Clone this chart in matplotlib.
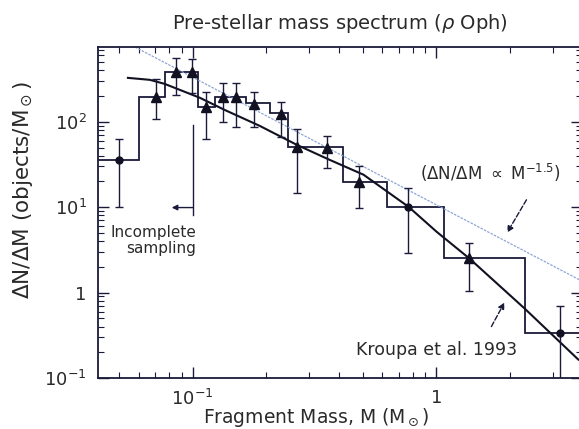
import numpy as np
import matplotlib
matplotlib.use("Agg")
import matplotlib.pyplot as plt

# data
mass = [0.050, 0.071, 0.085, 0.099, 0.113, 0.133, 0.151, 0.179, 0.230,
        0.267, 0.354, 0.479, 0.767, 1.36, 3.22]
dndm = [36, 196, 385, 385, 150, 196, 196, 162, 124,
        51, 50, 19.9, 10.1, 2.56, 0.34]
dndm_lo = [10, 108, 207, 218, 63, 100, 87, 87, 67,
           14.8, 29, 9.9, 2.9, 1.05, 0.09]
dndm_hi = [63, 318, 561, 547, 224, 286, 286, 224, 171,
           83, 69, 30, 17, 3.85, 0.70]
dot_points = [0, 12, 14]

hist_edges = [0.038, 0.0601, 0.0767, 0.0919, 0.105, 0.123, 0.166, 0.207,
              0.245, 0.412, 0.624, 1.07, 2.30, 5.0]
hist_levels = [36, 196, 385, 385, 150, 196, 167, 127, 51, 19.9, 10.1, 2.56, 0.34]

kroupa_m = [0.0542, 0.0667, 0.0767, 0.107, 0.135, 0.188, 0.267, 0.364,
            0.502, 0.768, 1.0, 1.366, 2.30, 3.82]
kroupa_n = [327, 310, 278, 191, 138, 89.8, 53.8, 35.9,
            24.0, 10.1, 5.17, 2.50, 0.650, 0.164]

powlaw_m = [0.058, 3.9]
powlaw_n = [750, 1.39]

ink = "#1a1a3a"
txt = "#2a2a2a"

fig = plt.figure(figsize=(5.79, 4.29), dpi=100)
ax = fig.add_axes([0.169, 0.119, 0.836, 0.7716])
ax.set_xscale("log")
ax.set_yscale("log")
ax.set_xlim(0.0408, 3.95)
ax.set_ylim(0.1, 753)

ax.plot(powlaw_m, powlaw_n, color="#8ea6d6", lw=0.9, ls=(0, (2, 1)))
ax.plot(kroupa_m, kroupa_n, color="#111122", lw=1.5)
ax.stairs(hist_levels, hist_edges, baseline=None, color=ink, lw=1.3)

m = np.array(mass)
n = np.array(dndm)
yerr = [n - np.array(dndm_lo), np.array(dndm_hi) - n]
ax.errorbar(m, n, yerr=yerr, fmt="none", ecolor=ink, elinewidth=1.0,
            capsize=3, capthick=1.0)
tri = [i for i in range(len(m)) if i not in dot_points]
ax.plot(m[tri], n[tri], ls="none", marker="^", ms=6.5, color="#111122")
ax.plot(m[dot_points], n[dot_points], ls="none", marker="o", ms=5, color="#111122")

# incomplete sampling marker
ax.plot([0.1, 0.1], [92, 8.2], color=ink, lw=1.0)
ax.annotate("", xy=(0.082, 9.9), xytext=(0.1, 9.9),
            arrowprops=dict(arrowstyle="-|>", color=ink, lw=1.0,
                            mutation_scale=8, shrinkA=0, shrinkB=0))
ax.text(0.103, 4.05, "Incomplete\nsampling", ha="right", va="center",
        multialignment="right", fontsize=11, color=txt, linespacing=1.1)

ax.text(1.66, 25.4, r"($\Delta$N/$\Delta$M $\propto$ M$^{-1.5}$)",
        ha="center", va="center", fontsize=12, color=txt)
ax.annotate("", xy=(1.95, 5.04), xytext=(2.34, 12.2),
            arrowprops=dict(arrowstyle="-|>", color=ink, lw=1.0, ls="--",
                            mutation_scale=9, shrinkA=0, shrinkB=0))
ax.text(1.0, 0.215, "Kroupa et al. 1993", ha="center", va="center",
        fontsize=12.5, color=txt)
ax.annotate("", xy=(1.90, 0.764), xytext=(1.68, 0.40),
            arrowprops=dict(arrowstyle="-|>", color=ink, lw=1.0, ls="--",
                            mutation_scale=9, shrinkA=0, shrinkB=0))

ax.set_xticks([0.1, 1])
ax.set_xticklabels([r"$10^{-1}$", "1"])
ax.set_yticks([0.1, 1, 10, 100])
ax.set_yticklabels([r"$10^{-1}$", "1", r"$10^{1}$", r"$10^{2}$"])
ax.tick_params(which="both", direction="in", top=True, right=True,
               color=ink, labelcolor=txt, labelsize=13)
ax.tick_params(which="major", length=8, width=1.0, pad=8)
ax.tick_params(which="minor", length=4, width=0.8)
for s in ax.spines.values():
    s.set_color(ink)
    s.set_linewidth(1.3)
ax.spines["right"].set_visible(False)

ax.set_title(r"Pre-stellar mass spectrum ($\rho$ Oph)", fontsize=14,
             color=txt, pad=13)
ax.set_ylabel(r"$\Delta$N/$\Delta$M (objects/M$_\odot$)", fontsize=15.5,
              color=txt)
ax.yaxis.set_label_coords(-0.13, 0.568)
ax.set_xlabel(r"Fragment Mass, M (M$_\odot$)", fontsize=13.5, color=txt)
ax.xaxis.set_label_coords(0.45, -0.085)

fig.savefig("out.png", dpi=100)
